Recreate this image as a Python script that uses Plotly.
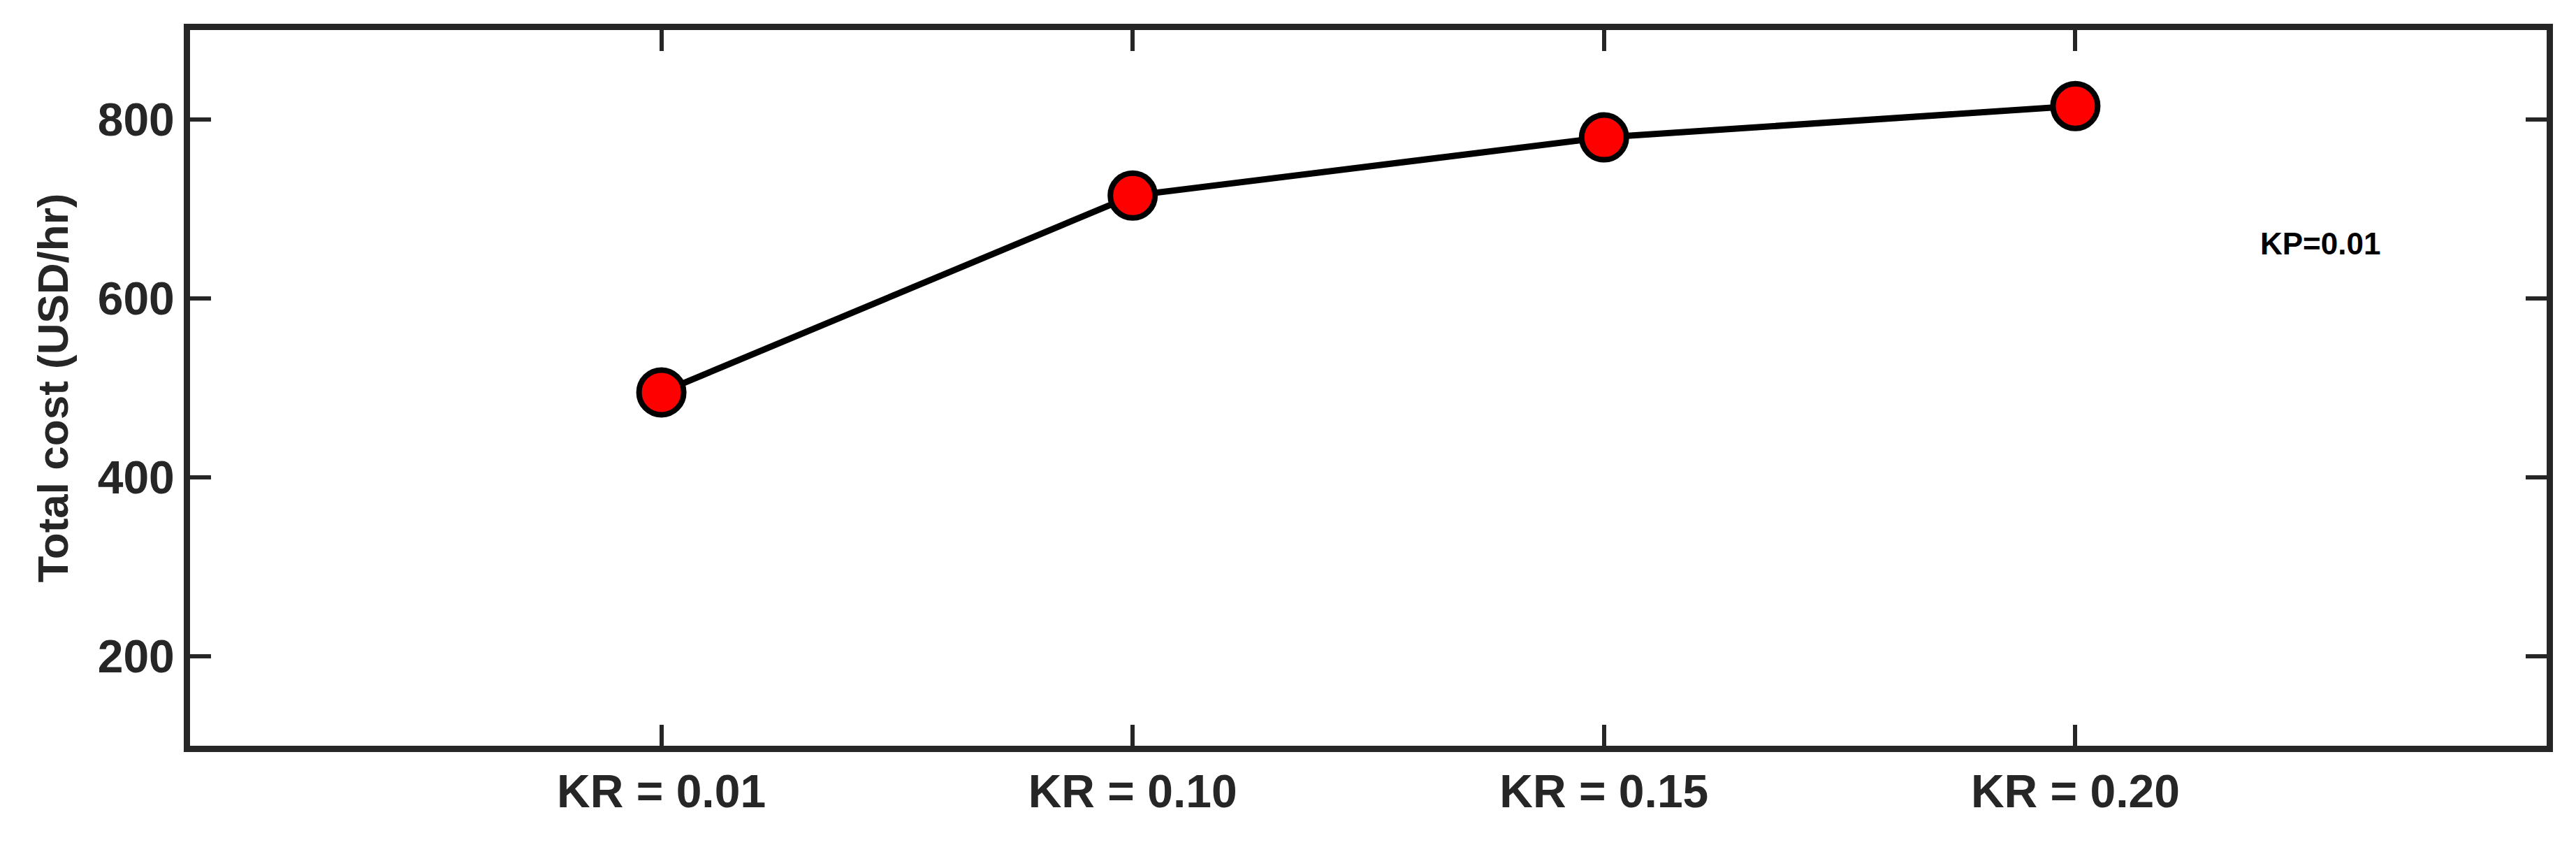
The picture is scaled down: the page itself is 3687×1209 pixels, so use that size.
import plotly.graph_objects as go

labels = ["KR = 0.01", "KR = 0.10", "KR = 0.15", "KR = 0.20"]
cost = [495, 715, 780, 815]
xpos = [0, 1, 2, 3]
yticks = [200, 400, 600, 800]

font = "Liberation Sans, Arial, sans-serif"

fig = go.Figure()
fig.add_trace(go.Scatter(
    x=xpos, y=cost, mode="lines+markers",
    line=dict(color="black", width=9),
    marker=dict(size=64, color="red", line=dict(color="black", width=8)),
))

fig.add_annotation(x=3.52, y=661, text="<b>KP=0.01</b>", showarrow=False,
                   font=dict(family=font, size=44, color="black"))

axis_common = dict(showline=True, linecolor="#262626", linewidth=9, mirror="ticks",
                   ticks="inside", ticklen=30, tickwidth=6, tickcolor="#262626",
                   showgrid=False, zeroline=False,
                   tickfont=dict(family=font, size=66, color="#262626"))

fig.update_xaxes(range=[-1, 4], tickvals=xpos, ticktext=["<b>%s</b>" % l for l in labels],
                 **axis_common)
fig.update_yaxes(range=[100, 900], tickvals=yticks, ticktext=["<b>%d</b>" % v for v in yticks],
                 title=dict(text="<b>Total cost (USD/hr)</b>", font=dict(family=font, size=62, color="#262626"),
                            standoff=25),
                 **axis_common)

fig.update_layout(width=3687, height=1209, plot_bgcolor="white", paper_bgcolor="white",
                  showlegend=False, margin=dict(l=264, r=50, t=35, b=150))
fig.write_html("out.html")
